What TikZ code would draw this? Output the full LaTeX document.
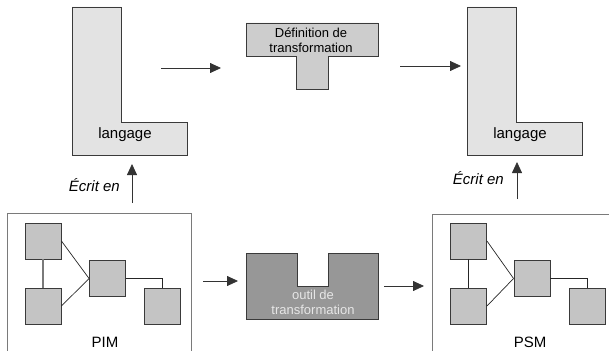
\documentclass[tikz,border=0pt]{standalone}
\usepackage{fontspec}
\setmainfont{Liberation Sans}
\usetikzlibrary{arrows.meta}
\definecolor{lfill}{HTML}{E3E3E3}
\definecolor{tfill}{HTML}{CDCDCD}
\definecolor{sqfill}{HTML}{C4C4C4}
\definecolor{toolfill}{HTML}{979797}
\definecolor{toolink}{HTML}{E6E6E6}
\definecolor{edge}{HTML}{3A3A3A}
\definecolor{frame}{HTML}{7A7A7A}
\tikzset{
  shapeline/.style={draw=edge, line width=0.9pt},
  flow/.style={draw=black!80, line width=0.8pt, -{Triangle[length=11pt,width=10pt]}},
  sq/.style={rectangle, draw=edge, line width=0.9pt, fill=sqfill,
             minimum width=36pt, minimum height=36pt, inner sep=0pt},
  link/.style={draw=black!85, line width=0.7pt},
  frameline/.style={draw=frame, line width=1pt},
  lbl/.style={font=\fontsize{15}{17}\selectfont, inner sep=0pt},
  small/.style={font=\fontsize{13}{15}\selectfont, inner sep=0pt, align=center},
  writ/.style={font=\fontsize{15}{17}\selectfont\itshape, inner sep=0pt},
}
\begin{document}
\begin{tikzpicture}[x=1pt, y=-1pt]
\useasboundingbox (0,0) rectangle (609,350);

% language L shapes
\path[shapeline, fill=lfill] (72,7) -- (121,7) -- (121,122) -- (187,122) -- (187,155) -- (72,155) -- cycle;
\node[lbl] (lang1) at (125,135) {langage};
\path[shapeline, fill=lfill] (467,7) -- (516,7) -- (516,122) -- (582,122) -- (582,155) -- (467,155) -- cycle;
\node[lbl] (lang2) at (520,135) {langage};

% transformation definition (T shape)
\path[shapeline, fill=tfill] (246,23) -- (378,23) -- (378,56) -- (328,56) -- (328,89) -- (296,89) -- (296,56) -- (246,56) -- cycle;
\node[small] (tdef) at (311,40) {Définition de\\transformation};

% transformation tool (notched block)
\path[shapeline, fill=toolfill] (246,253) -- (297,253) -- (297,286) -- (328,286) -- (328,253) -- (378,253) -- (378,319) -- (246,319) -- cycle;
\node[small, text=toolink] (tool) at (313,302) {outil de\\transformation};

% model frames
\draw[frameline] (7,352) -- (7,213) -- (191,213) -- (191,352);
\draw[frameline] (432,352) -- (432,214) -- (611,214);
\node[lbl] (pim) at (105,342) {PIM};
\node[lbl] (psm) at (530,342) {PSM};

% PIM model elements
\node[sq] (a1) at (43,241) {};
\node[sq] (a2) at (43,306) {};
\node[sq] (a3) at (107.5,278.5) {};
\node[sq] (a4) at (162.5,306) {};
\draw[link, draw=frame, line width=1.2pt] (a1.south) -- (a2.north);
\draw[link] (a1.east) -- (a3.west);
\draw[link] (a2.east) -- (a3.west);
\draw[link] (a3.east) -| (a4.north);

% PSM model elements
\node[sq] (b1) at (468.5,241) {};
\node[sq] (b2) at (468.5,306) {};
\node[sq] (b3) at (532,278.5) {};
\node[sq] (b4) at (587.5,306) {};
\draw[link] (b1.south) -- (b2.north);
\draw[link] (b1.east) -- (b3.west);
\draw[link] (b2.east) -- (b3.west);
\draw[link] (b3.east) -| (b4.north);

% flow arrows
\coordinate (f1s) at (161,68);  \coordinate (f1e) at (221,68);
\coordinate (f2s) at (400,66);  \coordinate (f2e) at (461,66);
\coordinate (f3s) at (203,281); \coordinate (f3e) at (238,281);
\coordinate (f4s) at (384,286); \coordinate (f4e) at (424,286);
\draw[flow] (f1s) -- (f1e);
\draw[flow] (f2s) -- (f2e);
\draw[flow] (f3s) -- (f3e);
\draw[flow] (f4s) -- (f4e);

% "written in" arrows
\coordinate (w1s) at (132,203); \coordinate (w1e) at (132,164);
\coordinate (w2s) at (517,199); \coordinate (w2e) at (517,162);
\draw[flow] (w1s) -- (w1e);
\draw[flow] (w2s) -- (w2e);
\node[writ, anchor=east] (wl1) at (120,185) {Écrit en};
\node[writ, anchor=east] (wl2) at (504,178) {Écrit en};
\end{tikzpicture}
\end{document}
